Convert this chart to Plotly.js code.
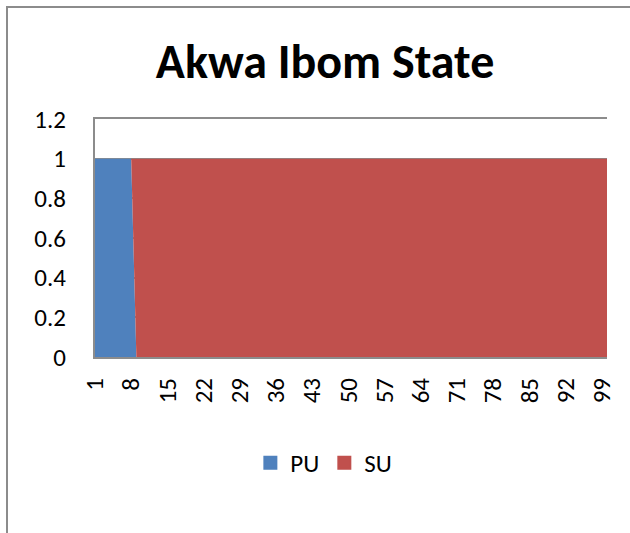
<!DOCTYPE html>
<html>
<head>
<meta charset="utf-8">
<script src="https://cdn.plot.ly/plotly-3.0.1.min.js"></script>
<style>
body{margin:0;padding:0;background:#fff;}
#wrap{position:relative;width:630px;height:533px;overflow:hidden;}
#chart{width:630px;height:533px;}
#frame{position:absolute;left:6px;top:6px;width:640px;height:540px;border-left:2px solid #8c8c8c;border-top:2px solid #8c8c8c;pointer-events:none;}
</style>
</head>
<body>
<div id="wrap"><div id="chart"></div><div id="frame"></div></div>
<script>
const categories = [1,2,3,4,5,6,7,8,9,10,11,12,13,14,15,16,17,18,19,20,21,22,23,24,25,26,27,28,29,30,31,32,33,34,35,36,37,38,39,40,41,42,43,44,45,46,47,48,49,50,51,52,53,54,55,56,57,58,59,60,61,62,63,64,65,66,67,68,69,70,71,72,73,74,75,76,77,78,79,80,81,82,83,84,85,86,87,88,89,90,91,92,93,94,95,96,97,98,99,100];
const PU = [1,1,1,1,1,1,1,1,0,0,0,0,0,0,0,0,0,0,0,0,0,0,0,0,0,0,0,0,0,0,0,0,0,0,0,0,0,0,0,0,0,0,0,0,0,0,0,0,0,0,0,0,0,0,0,0,0,0,0,0,0,0,0,0,0,0,0,0,0,0,0,0,0,0,0,0,0,0,0,0,0,0,0,0,0,0,0,0,0,0,0,0,0,0,0,0,0,0,0,0];
const SU = [0,0,0,0,0,0,0,0,1,1,1,1,1,1,1,1,1,1,1,1,1,1,1,1,1,1,1,1,1,1,1,1,1,1,1,1,1,1,1,1,1,1,1,1,1,1,1,1,1,1,1,1,1,1,1,1,1,1,1,1,1,1,1,1,1,1,1,1,1,1,1,1,1,1,1,1,1,1,1,1,1,1,1,1,1,1,1,1,1,1,1,1,1,1,1,1,1,1,1,1];
const seriesNames = ['PU', 'SU'];
const xTicks = [1,8,15,22,29,36,43,50,57,64,71,78,85,92,99];
const yTicks = [0,0.2,0.4,0.6,0.8,1,1.2];
const yTickText = ['0','0.2','0.4','0.6','0.8','1','1.2'];

const colors = ['#4F81BD', '#C0504D'];
const font = "Carlito, Calibri, 'Open Sans', 'Liberation Sans', sans-serif";
const series = [PU, SU];
const traces = [];
series.forEach((vals, i) => {
  traces.push({x: categories, y: vals, name: seriesNames[i], type: 'scatter', mode: 'lines', stackgroup: 'one',
    line: {width: 0, color: colors[i]}, fillcolor: colors[i], showlegend: false});
});
// legend-only entries (square swatches like the original)
series.forEach((vals, i) => {
  traces.push({x: [null], y: [null], name: seriesNames[i], type: 'bar',
    marker: {color: colors[i], line: {color: colors[i], width: 2}}, showlegend: true});
});
const layout = {
  width: 630, height: 533,
  margin: {l: 95, r: 23, t: 119, b: 176},
  paper_bgcolor: '#fff', plot_bgcolor: '#fff',
  font: {family: font, color: '#000', size: 25},
  title: {text: '<b>Akwa Ibom State</b>', font: {family: font, size: 48, color: '#000'},
          x: 0.516, xanchor: 'center', y: 0.885, yanchor: 'middle'},
  showlegend: true,
  legend: {orientation: 'h', traceorder: 'normal', x: 0.447, xanchor: 'center', y: -0.445, yanchor: 'middle',
           font: {family: font, size: 25}, itemwidth: 30},
  xaxis: {range: [1, 100], tickmode: 'array', tickvals: xTicks, ticktext: xTicks.map(String),
          tickangle: -90, showgrid: false, zeroline: false, showline: true, mirror: true,
          linecolor: '#8c8c8c', linewidth: 2,
          ticks: '', ticklabelstandoff: 9, tickfont: {family: font, size: 25}, fixedrange: true},
  yaxis: {range: [0, 1.2], tickmode: 'array', tickvals: yTicks, ticktext: yTickText,
          showgrid: true, gridcolor: '#8c8c8c', gridwidth: 2, zeroline: false,
          showline: true, linecolor: '#8c8c8c', linewidth: 2, ticks: '', ticklabelstandoff: 22,
          tickfont: {family: font, size: 25}, fixedrange: true}
};
Plotly.newPlot('chart', traces, layout, {displayModeBar: false, staticPlot: true});
</script>
</body>
</html>
